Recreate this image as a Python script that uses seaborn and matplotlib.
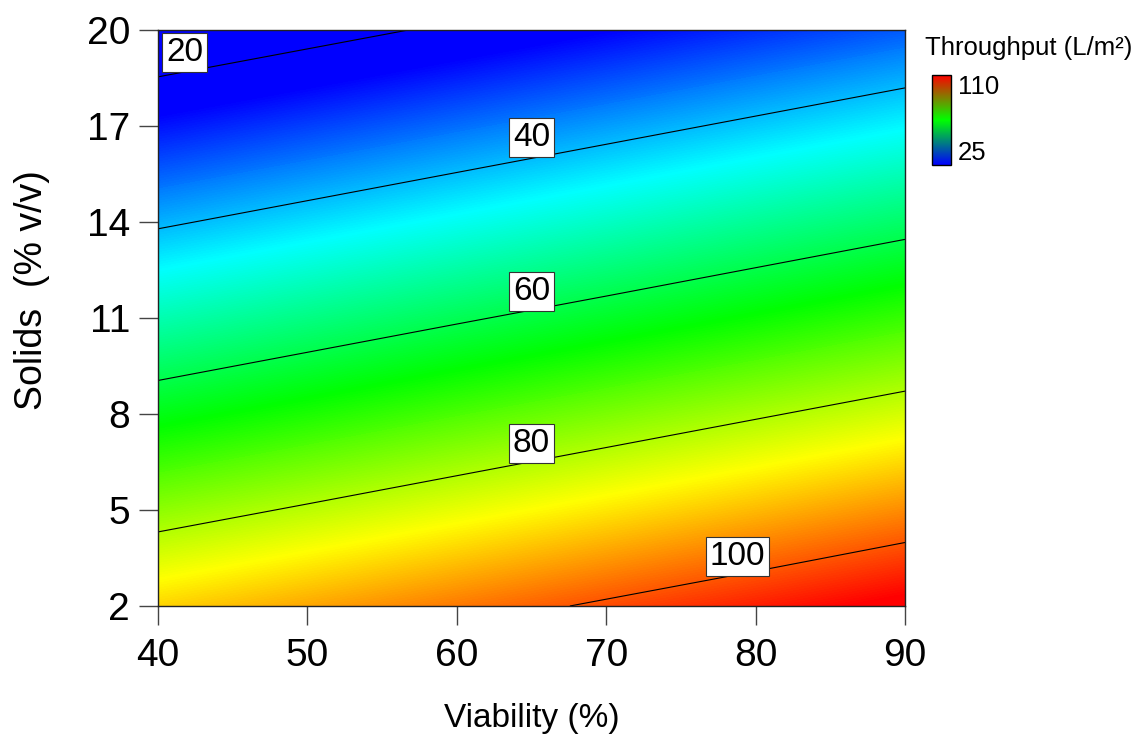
import numpy as np
import matplotlib
matplotlib.use("Agg")
import matplotlib.pyplot as plt
from matplotlib.colors import LinearSegmentedColormap, Normalize
from matplotlib.cm import ScalarMappable
import seaborn as sns

# ---- data ----
viability = [40, 50, 60, 70, 80, 90]          # %
solids = [2, 5, 8, 11, 14, 17, 20]            # % v/v
# throughput (L/m2): rows = solids, cols = viability
thr_s2 = [89.8, 93.5, 97.2, 100.9, 104.6, 108.4]
thr_s5 = [77.1, 80.8, 84.5, 88.2, 91.9, 95.7]
thr_s8 = [64.4, 68.1, 71.9, 75.6, 79.3, 83.0]
thr_s11 = [51.8, 55.5, 59.2, 62.9, 66.6, 70.4]
thr_s14 = [39.1, 42.8, 46.5, 50.2, 54.0, 57.7]
thr_s17 = [26.5, 30.2, 33.9, 37.6, 41.3, 45.0]
thr_s20 = [13.8, 17.5, 21.2, 24.9, 28.7, 32.4]
contour_levels = [20, 40, 60, 80, 100]
label_pos = [(41.8, 19.31), (65.0, 16.63), (65.0, 11.84), (65.0, 7.09), (78.8, 3.56)]
x_ticks = [40, 50, 60, 70, 80, 90]
y_ticks = [2, 5, 8, 11, 14, 17, 20]
cbar_range = [25, 110]
fill_range = [25, 107]

sns.set_theme(style="ticks")
plt.rcParams["font.family"] = ["Liberation Sans", "DejaVu Sans"]
plt.rcParams["text.color"] = "black"
plt.rcParams["axes.labelcolor"] = "black"
plt.rcParams["xtick.color"] = "black"
plt.rcParams["ytick.color"] = "black"

Z = np.array([thr_s2, thr_s5, thr_s8, thr_s11, thr_s14, thr_s17, thr_s20])
X, Y = np.meshgrid(viability, solids)

cmap = LinearSegmentedColormap.from_list(
    "de", ["#0000ff", "#00ffff", "#00ff00", "#ffff00", "#ff0000"])
cmap_bar = LinearSegmentedColormap.from_list("bar", ["#0000ff", "#00ff00", "#ff0000"])
norm = Normalize(vmin=fill_range[0], vmax=fill_range[1], clip=True)

fig = plt.figure(figsize=(11.39, 7.38), dpi=100)
ax = fig.add_axes([158 / 1139, 1 - 606 / 738, 747 / 1139, 576 / 738])

fill_levels = np.linspace(Z.min() - 1, Z.max() + 1, 300)
ax.contourf(X, Y, Z, levels=fill_levels, cmap=cmap, norm=norm, antialiased=False)
ax.contour(X, Y, Z, levels=contour_levels, colors="black", linewidths=0.8)

for lev, (px, py) in zip(contour_levels, label_pos):
    ax.text(px, py, f"{lev}", fontsize=24, ha="center", va="center", color="black",
            bbox=dict(boxstyle="square,pad=0.12", fc="white", ec="#333333", lw=0.8),
            zorder=5)

ax.set_xlim(40, 90)
ax.set_ylim(2, 20)
ax.set_xticks(x_ticks)
ax.set_yticks(y_ticks)
ax.tick_params(axis="both", direction="out", length=14, width=1, color="#444444",
               labelsize=28, pad=6, labelcolor="black")
ax.tick_params(axis="x", pad=9)
for s in ax.spines.values():
    s.set_color("#222222")
    s.set_linewidth(1)
ax.set_xlabel("Viability (%)", fontsize=24)
ax.xaxis.set_label_coords(0.5, -0.168)
ax.set_ylabel("Solids  (% v/v)", fontsize=27)
ax.yaxis.set_label_coords(-0.145, 0.549)

# colour bar
cax = fig.add_axes([932 / 1139, 1 - 165 / 738, 19 / 1139, 90 / 738])
cb = fig.colorbar(ScalarMappable(norm=Normalize(*cbar_range), cmap=cmap_bar), cax=cax)
cb.outline.set_edgecolor("black")
cb.outline.set_linewidth(1)
cb.set_ticks(cbar_range)
cb.set_ticklabels([str(v) for v in cbar_range])
cax.tick_params(length=0, labelsize=18.5, pad=5, labelcolor="black")
labs = cax.get_yticklabels()
labs[0].set_va("bottom")
labs[1].set_va("top")
fig.text(925 / 1139, 1 - 48 / 738, "Throughput (L/m²)", fontsize=18.5,
         ha="left", va="center", color="black")

fig.savefig("out.png", dpi=100)
